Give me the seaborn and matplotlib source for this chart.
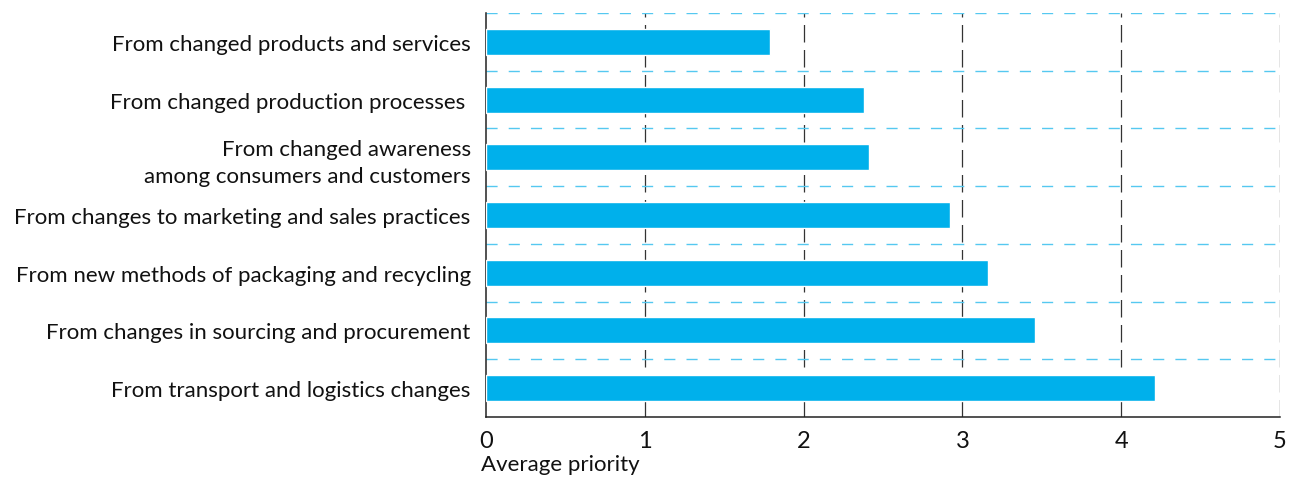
import matplotlib
matplotlib.use("Agg")
import matplotlib.pyplot as plt
import seaborn as sns
import pandas as pd
import numpy as np

categories = [
    "From changed products and services",
    "From changed production processes ",
    "From changed awareness\namong consumers and customers",
    "From changes to marketing and sales practices",
    "From new methods of packaging and recycling",
    "From changes in sourcing and procurement",
    "From transport and logistics changes",
]
values = [1.79, 2.38, 2.41, 2.92, 3.16, 3.46, 4.21]
x_ticks = [0, 1, 2, 3, 4, 5]
x_label = "Average priority"

sns.set_theme(style="white")
plt.rcParams['font.family'] = ['Lato', 'DejaVu Sans']

df = pd.DataFrame({"category": categories, "value": values})

fig = plt.figure(figsize=(12.95, 4.81), dpi=100)
ax = fig.add_axes([486/1295, 1 - 418/481, (1280-486)/1295, (418-14)/481])

sns.barplot(data=df, y="category", x="value", orient="h", color="#00B0EB",
            saturation=1, width=0.45, ax=ax, zorder=3)

ax.set_xlim(0, 5)
ax.set_ylim(6.5, -0.5)
ax.set_xticks(x_ticks)
ax.set_xticklabels([str(t) for t in x_ticks], fontsize=17, color="#111111")
ax.set_xlabel(x_label, fontsize=16, color="#111111")
ax.xaxis.set_label_coords(-0.006, -0.116, transform=ax.transAxes)
ax.xaxis.label.set_horizontalalignment("left")
ax.xaxis.label.set_verticalalignment("center")
ax.set_ylabel("")
ax.tick_params(axis="y", length=0, pad=11, labelsize=16, labelcolor="#111111")
for lbl in ax.get_yticklabels():
    lbl.set_linespacing(1.45)
ax.tick_params(axis="x", direction="in", length=5, width=1, color="#555555", pad=9)

# vertical dashed gridlines
for t in x_ticks[1:]:
    ax.axvline(t, color="#333333", lw=0.9, dashes=(14, 6), zorder=1)
# horizontal dashed separators
for b in np.arange(-0.5, 6.0, 1.0):
    ax.axhline(b, color="#55C8F0", lw=1.0, dashes=(8, 8), zorder=1)

for s in ["top", "right"]:
    ax.spines[s].set_visible(False)
for s in ["left", "bottom"]:
    ax.spines[s].set_color("#222222")
    ax.spines[s].set_linewidth(1.1)

fig.savefig("out.png", dpi=100)
